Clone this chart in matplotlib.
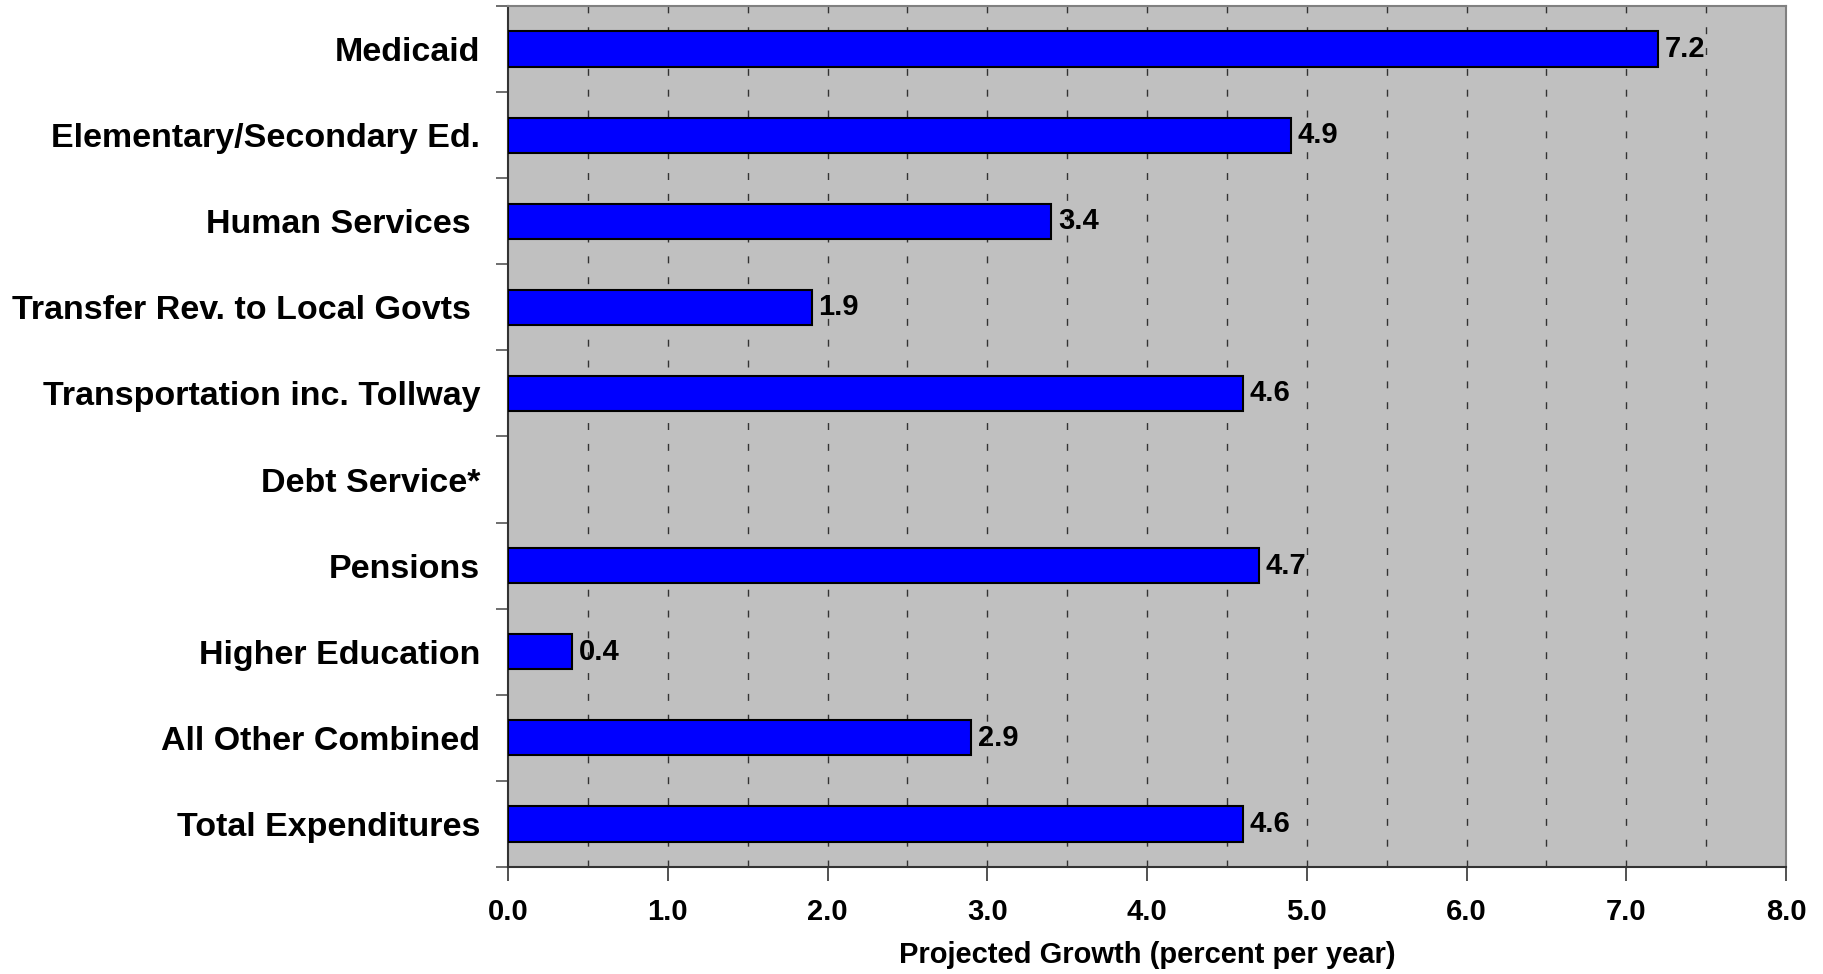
import numpy as np
import matplotlib.pyplot as plt

categories = ["Medicaid", "Elementary/Secondary Ed.", "Human Services ",
              "Transfer Rev. to Local Govts ", "Transportation inc. Tollway",
              "Debt Service*", "Pensions", "Higher Education",
              "All Other Combined", "Total Expenditures"]
growth = [7.2, 4.9, 3.4, 1.9, 4.6, np.nan, 4.7, 0.4, 2.9, 4.6]
x_ticks = [0, 1, 2, 3, 4, 5, 6, 7, 8]

plt.rcParams['font.family'] = ['Liberation Sans', 'DejaVu Sans']
plt.rcParams['font.weight'] = 'bold'

fig = plt.figure(figsize=(18.24, 9.74), dpi=100)
ax = fig.add_axes([0.2785, 0.1099, 0.7007, 0.8839])
ax.set_facecolor('#c0c0c0')

y = np.arange(len(categories))
vals = np.nan_to_num(growth)
mask = ~np.isnan(growth)
ax.barh(y[mask], vals[mask], height=0.41, color='#0000ff',
        edgecolor='black', linewidth=1.5, zorder=3)
for yi, v in zip(y[mask], vals[mask]):
    ax.annotate(f"{v:.1f}", (v, yi), xytext=(5, 0), textcoords='offset points',
                va='center', ha='left', fontsize=21, fontweight='bold', zorder=4)

# dashed grid every 0.5
for gx in np.arange(0.5, 8, 0.5):
    ax.axvline(gx, color='#333333', linewidth=1, linestyle=(0, (5, 10)), zorder=1)

ax.set_xlim(0, 8)
ax.set_ylim(len(categories) - 0.5, -0.5)

ax.set_xticks(x_ticks)
ax.set_xticklabels([f"{t:.1f}" for t in x_ticks], fontsize=21, fontweight='bold')
ax.tick_params(axis='x', length=10, width=1.2, pad=12, color='#333333')

ax.set_yticks(np.arange(-0.5, len(categories), 1.0))
ax.set_yticklabels([])
ax.set_yticks(y, minor=True)
ax.set_yticklabels(categories, minor=True, fontsize=24.5, fontweight='bold')
ax.tick_params(axis='y', which='major', length=9, width=1.2, color='#555555')
ax.tick_params(axis='y', which='minor', length=0, pad=20)

ax.set_xlabel("Projected Growth (percent per year)", fontsize=21,
              fontweight='bold', labelpad=11)

for side in ['left', 'bottom']:
    ax.spines[side].set_color('#333333')
    ax.spines[side].set_linewidth(1.5)
for side in ['top', 'right']:
    ax.spines[side].set_color('#808080')
    ax.spines[side].set_linewidth(1.5)

fig.savefig('out.png', dpi=100)
